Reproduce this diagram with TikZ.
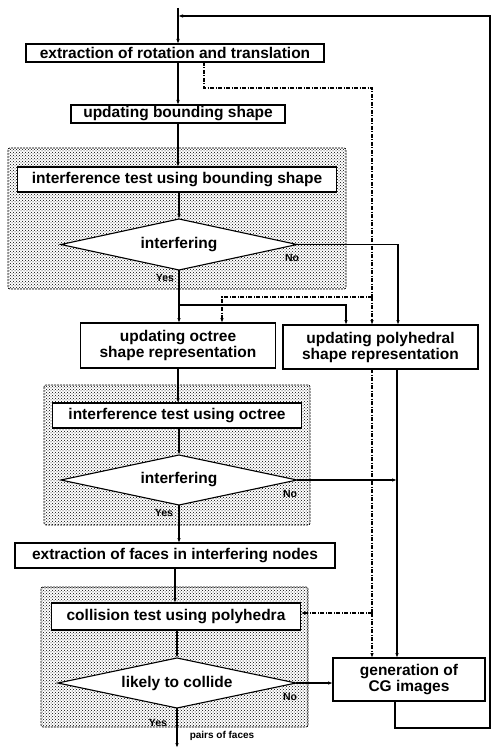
\documentclass[tikz,border=0pt]{standalone}
\usepackage{fontspec}
\setmainfont{Liberation Sans}
\usetikzlibrary{positioning,shapes.geometric,arrows.meta,patterns,backgrounds}

\begin{document}
\begin{tikzpicture}
[x=1pt,y=-1pt,
 every node/.style={draw=black,line width=1.1pt,fill=white,inner sep=0pt,outer sep=0pt,
   font=\fontsize{15.5}{16}\selectfont\bfseries,align=center},
 box/.style={rectangle},
 dec/.style={diamond,aspect=4.7,minimum width=236pt,minimum height=51pt},
 lab/.style={draw=none,fill=none,font=\fontsize{10.5}{11}\selectfont\bfseries},
 zone/.style={draw=black,line width=0.7pt,dash pattern=on 2pt off 1pt,rounded corners=2pt,
   pattern=crosshatch dots,pattern color=black},
 arr/.style={-{Latex[length=5pt,width=3.5pt]}},
 dsh/.style={dash pattern=on 4pt off 1.5pt on 1pt off 1.5pt},
 line width=1.1pt]
\useasboundingbox (0,0) rectangle (492,751);
\node[box,minimum width=298pt,minimum height=18pt] (ext) at (175,53) {extraction of rotation and translation};
\node[box,minimum width=214pt,minimum height=18pt] (bnd) [on grid,below right=61pt and 3pt of ext]    {updating bounding shape};
\node[box,minimum width=319pt,minimum height=25pt] (itb) [on grid,below left=65.5pt and 1pt of bnd]   {interference test using bounding shape};
\node[dec]                                         (dec1) [on grid,below right=65pt and 2pt of itb]   {interfering};
\node[box,minimum width=195pt,minimum height=45pt] (oct) [on grid,below left=101pt and 1pt of dec1]   {updating octree\\shape representation};
\node[box,minimum width=195pt,minimum height=44pt] (poly) [on grid,below right=1.5pt and 202.5pt of oct] {updating polyhedral\\shape representation};
\node[box,minimum width=249pt,minimum height=25pt] (ito) [on grid,below left=70pt and 1pt of oct]     {interference test using octree};
\node[dec,minimum height=50pt]                     (dec2) [on grid,below right=64.5pt and 2pt of ito] {interfering};
\node[box,minimum width=320pt,minimum height=25pt] (fac) [on grid,below left=75.5pt and 4pt of dec2]  {extraction of faces in interfering nodes};
\node[box,minimum width=249pt,minimum height=27pt] (col) [on grid,below right=61pt and 1pt of fac]    {collision test using polyhedra};
\node[dec,minimum width=238pt,minimum height=50pt] (dec3) [on grid,below right=66.5pt and 1pt of col] {likely to collide};
\node[box,minimum width=152pt,minimum height=43pt] (cg) [on grid,above right=3.5pt and 232pt of dec3] {generation of\\CG images};

\node[lab] (no1)  at (292,258) {No};
\node[lab] (yes1) at (165,278) {Yes};
\node[lab] (no2)  at (290,494) {No};
\node[lab] (yes2) at (164,513) {Yes};
\node[lab] (no3)  at (290,697) {No};
\node[lab] (yes3) at (158,723) {Yes};
\node[lab,font=\fontsize{10}{10}\selectfont\bfseries] (pof) at (222,736) {pairs of faces};

% shaded test stages behind the boxes
\begin{scope}[on background layer]
\draw[zone] (8,148) rectangle (346,289);
\draw[zone] (44,385) rectangle (310,525);
\draw[zone] (41,587) rectangle (308,727);
\end{scope}

\coordinate (top) at (178,8);
\coordinate (t1)  at (178,16);
\coordinate (r1)  at (490,728);
\coordinate (r2)  at (490,16);
\coordinate (j1)  at (179,305);
\coordinate (d1)  at (372,88);
\coordinate (d2)  at (372,297);
\coordinate (d3)  at (372,613);
\coordinate (out) at (177,748);

\draw[arr] (top) -- (top |- ext.north);
\draw[arr] (bnd.north |- ext.south) -- (bnd.north);
\draw[arr] (bnd.south) -- (bnd.south |- itb.north);
\draw[arr] (dec1.north |- itb.south) -- (dec1.north);
\draw      (dec1.south) -- (j1);
\draw[arr] (j1) -- (j1 |- oct.north);
\draw[arr] (j1) -| ([xshift=-34.5pt]poly.north);
\draw[arr] (dec1.east) -| ([xshift=17.5pt]poly.north);
\draw[arr] (oct.south) -- (oct.south |- ito.north);
\draw[arr] (dec2.north |- ito.south) -- (dec2.north);
\draw[arr] ([xshift=16.5pt]poly.south) -- ([xshift=-12pt]cg.north);
\draw[arr] (dec2.east) -- ([xshift=-12pt]cg.north |- dec2.east);
\draw[arr] (dec2.south) -- (dec2.south |- fac.north);
\draw[arr] (fac.south) -- (fac.south |- col.north);
\draw[arr] (dec3.north |- col.south) -- (dec3.north);
\draw[arr] (dec3.east) -- (dec3.east -| cg.west);
\draw[arr] (dec3.south) -- (out);
\draw[arr] ([xshift=-14pt]cg.south) |- (r1) -- (r2) -- (t1);

\draw[dsh]     ([xshift=29pt]ext.south) |- (d1) -- (d2);
\draw[dsh,arr] (d2) -- (d2 |- poly.north);
\draw[dsh,arr] (d2) -| ([xshift=44pt]oct.north);
\draw[dsh]     (poly.south -| d2) -- (d3);
\draw[dsh,arr] (d3) -- (d3 -| col.east);
\draw[dsh,arr] (d3) -- (d3 |- cg.north);
\end{tikzpicture}
\end{document}
